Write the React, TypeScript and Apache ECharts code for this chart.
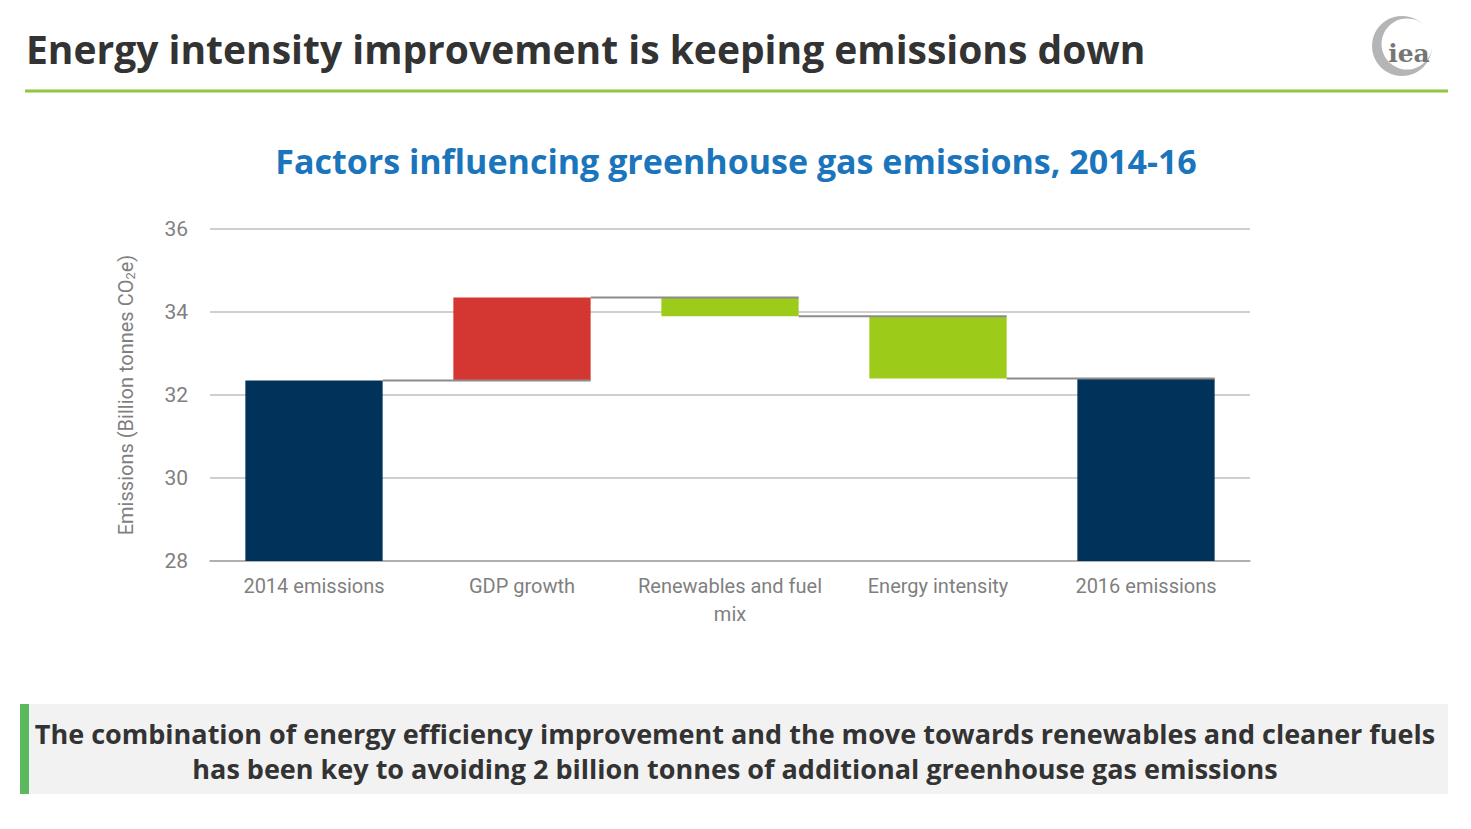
import React, { useEffect, useRef } from "react";
import * as echarts from "echarts";

const categories = ["2014 emissions", "GDP growth", "Renewables and fuel\nmix", "Energy intensity", "2016 emissions"];
const baseValues = [0, 32.35, 33.9, 32.4, 0];
const barValues = [32.35, 2.0, 0.45, 1.5, 32.4];
const connectorLevels = [32.35, 34.35, 33.9, 32.4];
const barColors = ["#00325a", "#d43732", "#9dcb19", "#9dcb19", "#00325a"];
const yTicks = { min: 28, max: 36, interval: 2 };

const NARROW = "Roboto, 'Liberation Sans', sans-serif";
const SANS = "'Open Sans', 'Noto Sans', sans-serif";

export default function App() {
  const ref = useRef<HTMLDivElement>(null);
  useEffect(() => {
    if (!ref.current) return;
    const chart = echarts.init(ref.current, undefined, { renderer: "svg" });
    const barWidthRatio = 0.66;
    chart.setOption({
      animation: false,
      backgroundColor: "#ffffff",
      grid: { left: 210, right: 221, top: 229, bottom: 268, containLabel: false },
      xAxis: {
        type: "category",
        data: categories,
        axisLine: { show: true, lineStyle: { color: "#a6a6a6", width: 1.5 } },
        axisTick: { show: false },
        axisLabel: {
          interval: 0,
          color: "#7f7f7f",
          fontSize: 20,
          fontFamily: NARROW,
          margin: 11,
          lineHeight: 28,
        },
      },
      yAxis: {
        type: "value",
        min: yTicks.min,
        max: yTicks.max,
        interval: yTicks.interval,
        name: "{a|Emissions (Billion tonnes CO}{b|2}{a|e)}",
        nameLocation: "middle",
        nameRotate: 90,
        nameGap: 73,
        nameTextStyle: {
          rich: {
            a: { color: "#7f7f7f", fontSize: 20, fontFamily: NARROW },
            b: { color: "#7f7f7f", fontSize: 13, fontFamily: NARROW, padding: [10, 0, 0, 0] },
          },
        },
        axisLine: { show: false },
        axisTick: { show: false },
        axisLabel: { color: "#7f7f7f", fontSize: 21, fontFamily: NARROW, margin: 22 },
        splitLine: { lineStyle: { color: "#bfbfbf", width: 1.5 } },
      },
      series: [
        {
          type: "bar",
          stack: "w",
          data: baseValues,
          itemStyle: { color: "transparent" },
          barWidth: `${barWidthRatio * 100}%`,
          silent: true,
        },
        {
          type: "bar",
          stack: "w",
          data: barValues.map((v, i) => ({ value: v, itemStyle: { color: barColors[i] } })),
          barWidth: `${barWidthRatio * 100}%`,
        },
        {
          type: "custom",
          data: connectorLevels.map((v, i) => [i, v]),
          z: 5,
          renderItem: (params: any, api: any) => {
            const i = api.value(0);
            const lvl = api.value(1);
            const p = api.coord([i, lvl]);
            const catW = api.size([1, 0])[0];
            const bw = catW * barWidthRatio;
            return {
              type: "line",
              shape: { x1: p[0] + bw / 2, y1: p[1], x2: p[0] + catW + bw / 2, y2: p[1] },
              style: { stroke: "#8c8c8c", lineWidth: 2 },
            };
          },
        },
      ],
      graphic: [
        {
          type: "text",
          left: 26,
          top: 29,
          style: {
            text: "Energy intensity improvement is keeping emissions down",
            fill: "#333333",
            font: `bold 39px ${SANS}`,
          },
        },
        {
          type: "line",
          shape: { x1: 25, y1: 91, x2: 1448, y2: 91 },
          style: { stroke: "#8dc63f", lineWidth: 3 },
        },
        {
          type: "text",
          x: 736,
          y: 161,
          style: {
            text: "Factors influencing greenhouse gas emissions, 2014-16",
            fill: "#1b75bc",
            font: `bold 34px ${SANS}`,
            textAlign: "center",
            textVerticalAlign: "middle",
          },
        },
        {
          type: "rect",
          shape: { x: 20, y: 704, width: 1428, height: 90 },
          style: { fill: "#f2f2f2" },
        },
        {
          type: "rect",
          shape: { x: 20, y: 704, width: 9, height: 90 },
          style: { fill: "#5cb85c" },
        },
        {
          type: "text",
          x: 735,
          y: 733,
          style: {
            text: "The combination of energy efficiency improvement and the move towards renewables and cleaner fuels",
            fill: "#333333",
            font: `bold 27px ${SANS}`,
            textAlign: "center",
            textVerticalAlign: "middle",
          },
        },
        {
          type: "text",
          x: 735,
          y: 768,
          style: {
            text: "has been key to avoiding 2 billion tonnes of additional greenhouse gas emissions",
            fill: "#333333",
            font: `bold 27px ${SANS}`,
            textAlign: "center",
            textVerticalAlign: "middle",
          },
        },
        {
          type: "circle",
          shape: { cx: 1402, cy: 46, r: 30 },
          style: { fill: "#b5b5b5" },
        },
        {
          type: "circle",
          shape: { cx: 1407, cy: 44, r: 25.5 },
          style: { fill: "#ffffff" },
        },
        {
          type: "text",
          x: 1409,
          y: 53,
          style: {
            text: "iea",
            fill: "#767676",
            font: `bold 25px 'DejaVu Serif', serif`,
            textAlign: "center",
            textVerticalAlign: "middle",
          },
        },
      ],
    });
    return () => chart.dispose();
  }, []);
  return (
    <div
      ref={ref}
      style={{ position: "fixed", left: 0, top: 0, width: 1471, height: 829, background: "#fff" }}
    />
  );
}
